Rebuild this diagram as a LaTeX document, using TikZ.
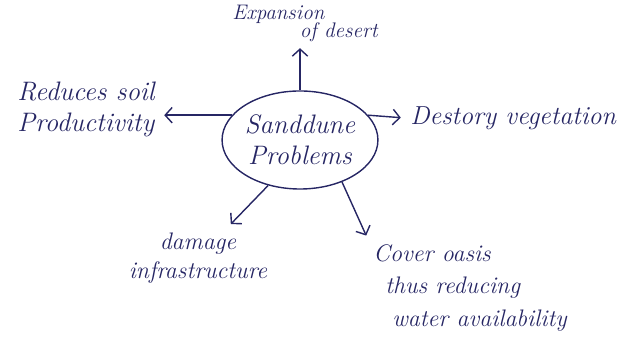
\documentclass[tikz,border=0pt]{standalone}
\usetikzlibrary{shapes.geometric,arrows.meta}
\definecolor{ink}{RGB}{38,38,100}

\begin{document}
\begin{tikzpicture}[x=0.025cm,y=0.025cm,ink,line width=1pt,
   every node/.style={font=\fontsize{17}{21}\selectfont\itshape},
   arr/.style={-{Straight Barb[length=5pt,width=11pt]},shorten >=3pt}]
\useasboundingbox (0,0) rectangle (625,347);
\node[draw,ellipse,inner sep=0pt,minimum width=3.65cm,minimum height=2.45cm,align=center,font=\fontsize{19}{22}\selectfont\itshape] (prob) at (300,207) {Sanddune\\Problems};
\node[align=left,anchor=south,inner sep=1pt,font=\fontsize{15}{15}\selectfont\itshape] (exp) at (305,303) {Expansion\\[-2pt]\hspace*{3.2em}of desert};
\node[align=left,anchor=east,font=\fontsize{19}{22}\selectfont\itshape] (soil) at (160,238) {Reduces soil\\Productivity};
\node[anchor=west,font=\fontsize{18.5}{22}\selectfont\itshape] (veg) at (405,229) {Destory vegetation};
\node[align=center] (infra) at (198,89) {damage\\infrastructure};
\node[align=left,font=\fontsize{17}{23}\selectfont\itshape] (oasis) at (470,59) {Cover oasis\\\hspace*{0.5em}thus reducing\\\hspace*{0.8em}water availability};
% arrows out of the bubble
\draw[arr] (prob.north) -- (prob.north |- exp.south);
\draw[arr] (prob.160) -- (prob.160 -| soil.east);
\draw[arr] (prob.20) -- (veg.west);
\draw[arr] (prob.235) -- (infra);
\draw[arr] (prob.-45) -- (oasis.north west);
\end{tikzpicture}
\end{document}
